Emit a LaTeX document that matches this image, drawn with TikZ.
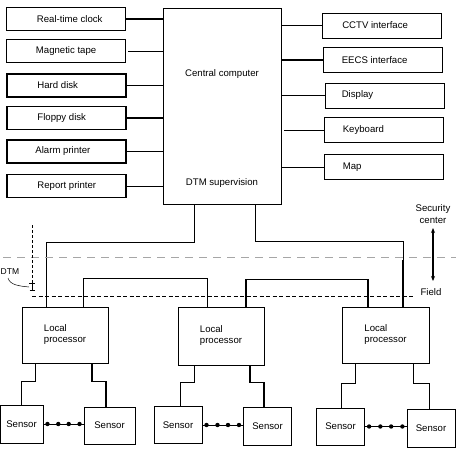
\documentclass[tikz,border=0pt]{standalone}
\usepackage{fontspec}
\setmainfont{Liberation Sans}
\usetikzlibrary{arrows.meta,calc}
\begin{document}
\begin{tikzpicture}[x=1pt,y=-1pt,
  every node/.style={font=\fontsize{9.6}{11}\selectfont},
  lbox/.style={draw,line width=1.5pt,minimum width=119pt,minimum height=23pt,inner sep=0pt},
  rbox/.style={draw,line width=0.8pt,minimum width=119pt,minimum height=25pt,inner sep=0pt},
  cbox/.style={draw,line width=0.8pt,minimum width=118pt,minimum height=196pt,inner sep=0pt},
  pbox/.style={draw,line width=0.8pt,minimum width=86pt,minimum height=56pt,align=left,inner sep=0pt},
  sbox/.style={draw,line width=0.9pt,minimum width=48pt,minimum height=37pt,inner sep=0pt},
  thin/.style={line width=0.6pt},
  thick/.style={line width=1.4pt},
  ltext/.style={anchor=west,inner sep=0pt},
  dot/.style={circle,fill,inner sep=0pt,minimum size=4.4pt}
]
\useasboundingbox (0,0) rectangle (456,451);

% central computer
\node[cbox] (cc) at (222,106) {};
\node[inner sep=0pt] (cct) at (222,74) {Central computer};
\node[inner sep=0pt] (ccd) at (222,183) {DTM supervision};

% left boxes
\node[lbox,label={[ltext,xshift=31pt]west:Real-time clock}] (rtc) at (66,19) {};
\node[lbox,label={[ltext,xshift=30pt]west:Magnetic tape}] (mt) at (66,51) {};
\node[lbox,label={[ltext,xshift=31pt]west:Hard disk}] (hd) at (66.5,85.5) {};
\node[lbox,label={[ltext,xshift=31pt]west:Floppy disk}] (fd) at (66.5,118) {};
\node[lbox,label={[ltext,xshift=29pt]west:Alarm printer}] (ap) at (66.5,151.5) {};
\node[lbox,label={[ltext,xshift=31pt]west:Report printer}] (rp) at (66.5,186) {};

\draw[thick] (rtc.east) -- (rtc.east -| cc.west);
\draw[thin] ([xshift=2pt]mt.east) -- (mt.east -| cc.west);
\draw[thick] (hd.east) -- (hd.east -| cc.west);
\draw[thick] (fd.east) -- (fd.east -| cc.west);
\draw[thin] (ap.east) -- (ap.east -| cc.west);
\draw[thin] (rp.east) -- (rp.east -| cc.west);

% right boxes
\node[rbox,label={[ltext,xshift=20pt]west:CCTV interface}] (cctv) at (382,25.5) {};
\node[rbox,label={[ltext,xshift=19pt]west:EECS interface}] (eecs) at (382.5,60) {};
\node[rbox,label={[ltext,xshift=17pt]west:Display}] (disp) at (384.5,95.5) {};
\node[rbox,label={[ltext,xshift=19pt]west:Keyboard}] (kb) at (383.5,130) {};
\node[rbox,label={[ltext,xshift=19pt]west:Map}] (map) at (383.5,167) {};

\draw[thick] (cctv.west) -- (cctv.west -| cc.east);
\draw[thick] (eecs.west) -- (eecs.west -| cc.east);
\draw[thick] (disp.west) -- (disp.west -| cc.east);
\draw[thin] (kb.west) -- ([xshift=3pt]kb.west -| cc.east);
\draw[thin] (map.west) -- (map.west -| cc.east);

% local processors
\node[pbox] (lp1) at (65,335) {Local\\processor};
\node[pbox,minimum height=58pt] (lp2) at (221,336) {Local\\processor};
\node[pbox,minimum width=87pt] (lp3) at (385.5,335) {Local\\processor};

% central to processors
\draw[thin] ([xshift=-28pt]cc.south) -- ++(0,38) -| ([xshift=-19pt]lp1.north);
\draw[thin] ([xshift=33pt]cc.south) -- ++(0,37) -| ([xshift=17.5pt]lp3.north);
\draw[thick] (403,260) -- ([xshift=17.5pt]lp3.north);
% processor buses
\draw[thin] ([xshift=18pt]lp1.north) -- ++(0,-28) -| ([xshift=-14pt]lp2.north);
\draw[thick] ([xshift=25pt]lp2.north) -- ++(0,-27) -| ([xshift=-17.5pt]lp3.north);

% sensors
\node[sbox,minimum width=43pt,minimum height=38pt] (s1) at (21.5,424) {Sensor};
\node[sbox,minimum width=51pt] (s2) at (109.5,425.5) {Sensor};
\node[sbox] (s3) at (178,425) {Sensor};
\node[sbox,minimum height=38pt] (s4) at (267.5,426) {Sensor};
\node[sbox] (s5) at (340.5,426.5) {Sensor};
\node[sbox,minimum height=38pt] (s6) at (431,428) {Sensor};

\draw[thin] ([xshift=-30pt]lp1.south) -- ++(0,18) -| (s1.north);
\draw[thick] ([xshift=27pt]lp1.south) -- ++(0,18) -| ([xshift=-3.5pt]s2.north);
\draw[thin] ([xshift=-27pt]lp2.south) -- ++(0,17) -| ([xshift=2pt]s3.north);
\draw[thick] ([xshift=29pt]lp2.south) -- ++(0,17) -| ([xshift=-3.5pt]s4.north);
\draw[thin] ([xshift=-30.5pt]lp3.south) -- ++(0,20) -| ([xshift=0.5pt]s5.north);
\draw[thin] ([xshift=27.5pt]lp3.south) -- ++(0,20) -| ([xshift=-2pt]s6.north);

% dotted chains between sensors
\foreach \a/\b in {s1/s2,s3/s4,s5/s6}{
  \draw[line width=0.4pt] (\a.east) -- (\b.west |- \a.east);
  \foreach \t in {0.1,0.37,0.63,0.9}
    \node[dot] at ($(\a.east)!\t!(\b.west |- \a.east)$) {};
}

% zone boundaries
\draw[gray!70,line width=1pt,dash pattern=on 8pt off 6pt] (3,257) -- (456,257);
\draw[line width=0.6pt,dash pattern=on 4pt off 2.5pt] (32,296) -- (413,296);

% DTM
\coordinate (dtmtop) at (32,225);
\coordinate (dtmbar) at (32,283);
\draw[line width=0.5pt,dash pattern=on 3pt off 2pt] (dtmtop) -- (dtmbar);
\draw[line width=0.7pt] (29,283) -- (35,283) (32,283) -- (32,290) (29.5,290) -- (34.5,290);
\node[anchor=west,inner sep=0pt,font=\fontsize{8.5}{10}\selectfont] (dtm) at (0.5,272) {DTM};
\draw[line width=0.5pt] (8,278) .. controls (10,285) and (19,286) .. (29,287);

% security / field
\node[inner sep=0pt,align=center,font=\fontsize{9.6}{12}\selectfont] (sec) at (433,214) {Security\\center};
\node[inner sep=0pt] (fld) at (431,292) {Field};
\draw[line width=1.2pt,{Stealth[length=5pt,width=4pt]}-{Stealth[length=5pt,width=4pt]}] (433,228) -- (433,281);
\end{tikzpicture}
\end{document}
